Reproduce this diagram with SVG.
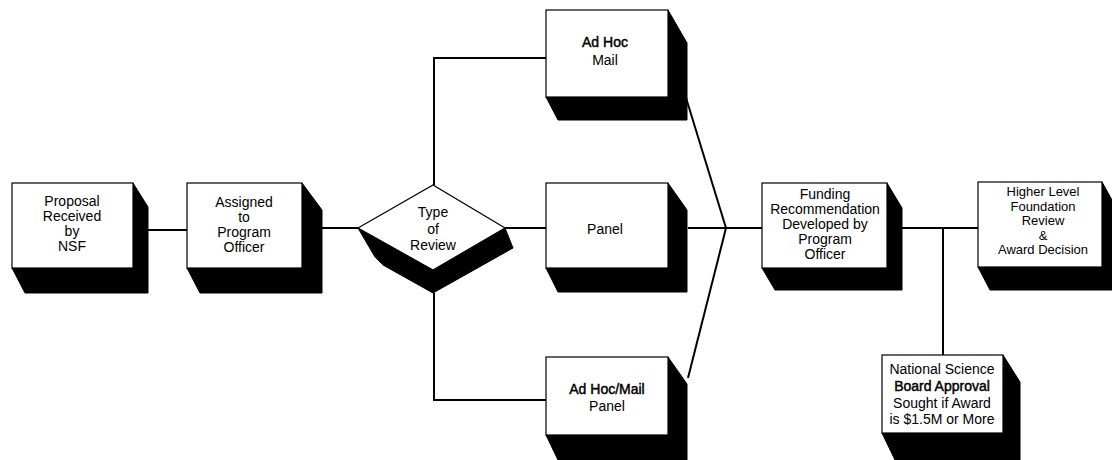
<svg xmlns="http://www.w3.org/2000/svg" width="1112" height="460" viewBox="0 0 1112 460">
<style>
.face{fill:#fff;stroke:#000;stroke-width:1.2}
.shadow{fill:#000;stroke:#000;stroke-width:1}
.conn{fill:none;stroke:#000;stroke-width:2}
text{font-family:"Liberation Sans",Arial,Helvetica,sans-serif;font-size:14px;fill:#000;text-anchor:middle}
.sm{font-size:13px}
.b{stroke:#000;stroke-width:0.45}
</style>
<rect width="1112" height="460" fill="#fff"/>
<g id="connectors">
<line class="conn" x1="148" y1="230" x2="187" y2="230"/>
<line class="conn" x1="322" y1="228" x2="358" y2="228"/>
<polyline class="conn" points="434,185 434,58 546,58"/>
<polyline class="conn" points="434,293 434,400 546,400"/>
<line class="conn" x1="505" y1="228" x2="546" y2="228"/>
<line class="conn" x1="688" y1="228" x2="762" y2="228"/>
<line class="conn" x1="683" y1="88" x2="726" y2="228"/>
<line class="conn" x1="688" y1="378" x2="726" y2="228"/>
<line class="conn" x1="902" y1="228" x2="978" y2="228"/>
<line class="conn" x1="943" y1="228" x2="943" y2="355"/>
</g>
<g id="proposal">
<polygon class="shadow" points="133,183 148,207 148,293 25,293 12,268 133,268"/>
<rect class="face" x="12" y="183" width="121" height="85"/>
<text x="72" y="206">Proposal</text>
<text x="72" y="221">Received</text>
<text x="72" y="236">by</text>
<text x="72" y="251">NSF</text>
</g>
<g id="assigned">
<polygon class="shadow" points="302,183 322,210 322,293 200,293 187,268 302,268"/>
<rect class="face" x="187" y="183" width="115" height="85"/>
<text x="244" y="207">Assigned</text>
<text x="244" y="222">to</text>
<text x="244" y="237">Program</text>
<text x="244" y="252">Officer</text>
</g>
<g id="type">
<polygon class="shadow" points="358,228 433,270 505,228 513,248 433,293 383,265 375,257"/>
<polygon class="face" points="358,228 433,185 505,228 433,270"/>
<text x="433" y="217">Type</text>
<text x="433" y="234">of</text>
<text x="433" y="250">Review</text>
</g>
<g id="adhocmail">
<polygon class="shadow" points="668,10 687,43 687,120 558,120 546,97 668,97"/>
<rect class="face" x="546" y="10" width="122" height="87"/>
<text class="b" x="605" y="47">Ad Hoc</text>
<text x="605" y="65">Mail</text>
</g>
<g id="panel">
<polygon class="shadow" points="668,183 687,210 687,292 558,292 546,268 668,268"/>
<rect class="face" x="546" y="183" width="122" height="85"/>
<text x="605" y="234">Panel</text>
</g>
<g id="adhocpanel">
<polygon class="shadow" points="668,357 687,384 687,460 558,460 546,435 668,435"/>
<rect class="face" x="546" y="357" width="122" height="78"/>
<text class="b" x="607" y="394">Ad Hoc/Mail</text>
<text x="607" y="411">Panel</text>
</g>
<g id="funding">
<polygon class="shadow" points="887,183 902,208 902,290 775,290 762,268 887,268"/>
<rect class="face" x="762" y="183" width="125" height="85"/>
<text x="825" y="199">Funding</text>
<text x="825" y="214">Recommendation</text>
<text x="825" y="229">Developed by</text>
<text x="825" y="244">Program</text>
<text x="825" y="259">Officer</text>
</g>
<g id="higher">
<polygon class="shadow" points="1102,182 1112,200 1112,290 990,290 978,267 1102,267"/>
<rect class="face" x="978" y="182" width="124" height="85"/>
<text class="sm" x="1043" y="196">Higher Level</text>
<text class="sm" x="1043" y="210.5">Foundation</text>
<text class="sm" x="1043" y="225">Review</text>
<text class="sm" x="1043" y="239.5">&amp;</text>
<text class="sm" x="1043" y="254">Award Decision</text>
</g>
<g id="national">
<polygon class="shadow" points="1003,355 1020,382 1020,460 895,460 882,433 1003,433"/>
<rect class="face" x="882" y="355" width="121" height="78"/>
<text x="942" y="374">National Science</text>
<text class="b" x="942" y="391">Board Approval</text>
<text x="942" y="408">Sought if Award</text>
<text x="942" y="424">is $1.5M or More</text>
</g>
</svg>
